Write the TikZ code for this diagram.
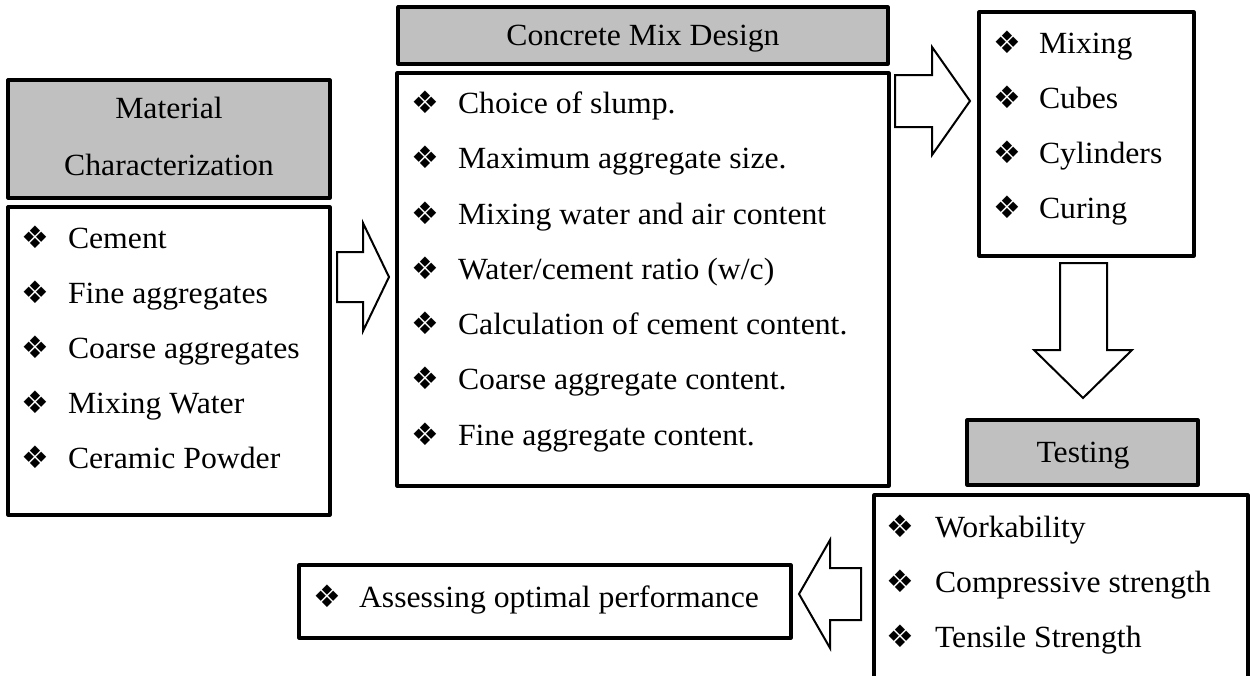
\documentclass[tikz,border=0pt]{standalone}
\usepackage{fontspec}
\setmainfont{Liberation Serif}[FakeStretch=1.03]
\newfontfamily\dejavu{DejaVu Sans}
\usetikzlibrary{fit}
\definecolor{hdrgray}{RGB}{192,192,192}
\tikzset{
  box/.style={draw=black, line width=1.6pt, line join=round, inner sep=0pt, outer sep=0pt},
  hdr/.style={box, fill=hdrgray},
  txt/.style={font=\fontsize{15.4pt}{18pt}\selectfont, inner sep=0pt, outer sep=0pt},
  bul/.style={font=\dejavu\fontsize{15.5pt}{15.5pt}\selectfont, inner sep=0pt, outer sep=0pt, anchor=base west},
  blockarrow/.style={draw=black, line width=1pt, line join=miter, fill=white},
}
\newcommand\bitem[5]{%
  \node[bul] (#1b) at (#2,#3) {❖};
  \node[txt, anchor=base west] (#1) at (#4,#3) {#5};}
\begin{document}
\begin{tikzpicture}[x=0.5pt,y=-0.5pt]
\useasboundingbox (0,0) rectangle (1251,675);
\clip (0,0) rectangle (1251,675);

% boxes
\node[hdr, fit={(8,80)(330,198)}] (mathead) {};
\node[box, fit={(8,207)(330,515)}] (matbody) {};
\node[hdr, fit={(398,7)(888,64)}] (mixhead) {};
\node[box, fit={(397,73)(889,486)}] (mixbody) {};
\node[box, fit={(979,12)(1194,256)}] (castbody) {};
\node[hdr, fit={(967,420)(1198,485)}] (testhead) {};
\node[box, fit={(874,495)(1248,700)}] (testbody) {};
\node[box, fit={(299,565)(791,638)}] (assess) {};

% block arrows
\draw[blockarrow] (337,252) -- (363,252) -- (363,223) -- (389,277) -- (363,331) -- (363,302) -- (337,302) -- cycle;
\draw[blockarrow] (895,75) -- (932,75) -- (932,47) -- (970,101) -- (932,155) -- (932,127) -- (895,127) -- cycle;
\draw[blockarrow] (1060,263) -- (1107,263) -- (1107,350) -- (1132,350) -- (1083,398) -- (1034,350) -- (1060,350) -- cycle;
\draw[blockarrow] (861,568) -- (830,568) -- (830,540) -- (799,594) -- (830,648) -- (830,620) -- (861,620) -- cycle;

% headers
\node[txt, anchor=base] (mt1) at (169,118) {Material};
\node[txt, anchor=base] (mt2) at (169,175) {Characterization};
\node[txt, anchor=base] (mxt) at (643,45) {Concrete Mix Design};
\node[txt, anchor=base] (tst) at (1083,462) {Testing};

% material items
\bitem{m1}{21}{248}{68}{Cement}
\bitem{m2}{21}{303}{68}{Fine aggregates}
\bitem{m3}{21}{358}{68}{Coarse aggregates}
\bitem{m4}{21}{413}{68}{Mixing Water}
\bitem{m5}{21}{468}{68}{Ceramic Powder}

% mix design items
\bitem{d1}{411}{113}{458}{Choice of slump.}
\bitem{d2}{411}{168}{458}{Maximum aggregate size.}
\bitem{d3}{411}{224}{458}{Mixing water and air content}
\bitem{d4}{411}{279}{458}{Water/cement ratio (w/c)}
\bitem{d5}{411}{334}{458}{Calculation of cement content.}
\bitem{d6}{411}{389}{458}{Coarse aggregate content.}
\bitem{d7}{411}{445}{458}{Fine aggregate content.}

% casting items
\bitem{c1}{993}{53}{1039}{Mixing}
\bitem{c2}{993}{108}{1039}{Cubes}
\bitem{c3}{993}{163}{1039}{Cylinders}
\bitem{c4}{993}{218}{1039}{Curing}

% testing items
\bitem{t1}{886}{537}{935}{Workability}
\bitem{t2}{886}{592}{935}{Compressive strength}
\bitem{t3}{886}{647}{935}{Tensile Strength}

% assessing
\bitem{a1}{313}{607}{359}{Assessing optimal performance}
\end{tikzpicture}
\end{document}
